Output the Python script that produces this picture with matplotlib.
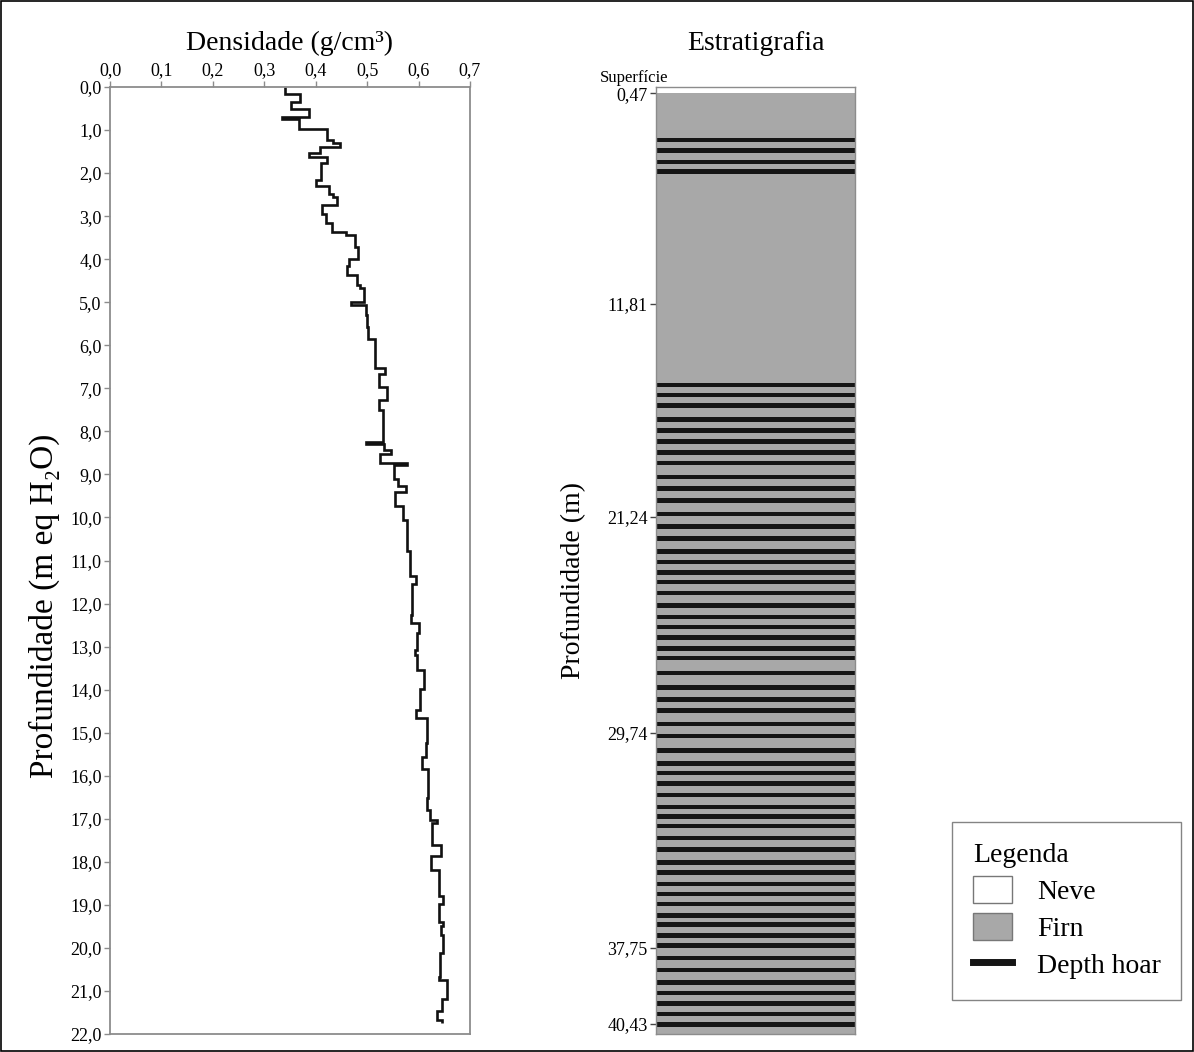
import matplotlib
matplotlib.use("Agg")
import matplotlib.pyplot as plt
from matplotlib.patches import Patch, Rectangle
from matplotlib.lines import Line2D
from matplotlib.ticker import FuncFormatter

# Density profile: top of each layer (m w.e.) and its density (g/cm3)
layer_top = [0.00, 0.16, 0.36, 0.51, 0.70, 0.75, 0.98, 1.23, 1.29, 1.39,
             1.53, 1.63, 1.76, 2.16, 2.29, 2.49, 2.55, 2.74, 2.95, 3.17,
             3.36, 3.43, 3.72, 4.00, 4.16, 4.37, 4.60, 4.67, 4.99, 5.06,
             5.29, 5.58, 5.86, 6.53, 6.67, 6.98, 7.27, 7.50, 8.24, 8.30,
             8.43, 8.53, 8.74, 8.78, 9.11, 9.28, 9.40, 9.73, 10.07, 10.79,
             11.37, 11.54, 12.26, 12.45, 12.69, 13.08, 13.19, 13.55, 13.99, 14.47,
             14.65, 15.25, 15.56, 15.85, 16.52, 16.79, 17.04, 17.10, 17.51, 17.60,
             17.86, 18.19, 18.79, 18.98, 19.39, 19.50, 19.70, 20.12, 20.67, 20.74,
             21.19, 21.46, 21.67]
layer_density = [0.340, 0.369, 0.351, 0.386, 0.334, 0.368, 0.421, 0.434, 0.447, 0.408,
                 0.386, 0.421, 0.410, 0.400, 0.426, 0.434, 0.441, 0.412, 0.420, 0.431,
                 0.459, 0.476, 0.483, 0.465, 0.461, 0.480, 0.486, 0.493, 0.468, 0.497,
                 0.499, 0.502, 0.515, 0.535, 0.524, 0.538, 0.524, 0.531, 0.497, 0.532,
                 0.546, 0.525, 0.578, 0.553, 0.560, 0.576, 0.554, 0.570, 0.577, 0.583,
                 0.595, 0.587, 0.585, 0.600, 0.596, 0.593, 0.597, 0.611, 0.603, 0.595,
                 0.616, 0.614, 0.606, 0.619, 0.616, 0.622, 0.635, 0.627, 0.626, 0.643,
                 0.624, 0.639, 0.647, 0.639, 0.648, 0.643, 0.647, 0.642, 0.639, 0.656,
                 0.645, 0.636, 0.645]
profile_bottom = 21.74

# Stratigraphy (plotted on the same m w.e. scale, labelled in metres)
neve_bottom = 0.15
column_bottom = 22.0
depth_hoar = [1.23, 1.48, 1.74, 1.96,
              6.92, 7.15, 7.40, 7.73, 7.98, 8.24, 8.49, 8.74, 9.06, 9.33,
              9.61, 9.92, 10.21, 10.49, 10.79, 11.03, 11.28, 11.50, 11.75, 12.04,
              12.31, 12.54, 12.79, 13.05, 13.26, 13.61, 13.95, 14.23, 14.49, 14.80,
              15.08, 15.41, 15.71, 15.94, 16.18, 16.45, 16.73, 16.95, 17.17, 17.45,
              17.71, 18.01, 18.25, 18.51, 18.75, 18.98, 19.25, 19.46, 19.71, 19.95,
              20.23, 20.51, 20.80, 21.05, 21.29, 21.53, 21.78]
strat_tick_pos = [0.15, 5.04, 9.98, 15.00, 20.00, 21.76]
strat_tick_labels = ["0,47", "11,81", "21,24", "29,74", "37,75", "40,43"]

plt.rcParams["font.family"] = ["Liberation Serif", "DejaVu Serif"]

W, H = 1194, 1052
fig = plt.figure(figsize=(W / 100, H / 100), dpi=100)
spine_gray = "#8c8c8c"
firn_gray = "#a8a8a8"

def fig_rect(x0, y0, x1, y1):
    return [x0 / W, 1 - y1 / H, (x1 - x0) / W, (y1 - y0) / H]

# Left panel: density
ax = fig.add_axes(fig_rect(110, 87, 470, 1034))
edges = layer_top + [profile_bottom]
ax.stairs(layer_density, edges, orientation="horizontal", baseline=None,
          color="#111111", linewidth=1.9)
ax.set_xlim(0, 0.7)
ax.set_ylim(22, 0)
ax.set_xticks([i / 10 for i in range(8)])
ax.set_yticks(range(23))
comma = FuncFormatter(lambda v, p: f"{v:.1f}".replace(".", ","))
ax.xaxis.set_major_formatter(comma)
ax.yaxis.set_major_formatter(comma)
ax.xaxis.tick_top()
ax.tick_params(axis="both", direction="out", length=4, width=1, color=spine_gray,
               labelsize=13, pad=2)
for s in ax.spines.values():
    s.set_color(spine_gray)
    s.set_linewidth(1.3)
ax.set_title("Densidade (g/cm³)", fontsize=20, pad=27)
ax.set_ylabel("Profundidade (m eq H₂O)", fontsize=24)
ax.yaxis.set_label_coords(-0.14, 0.452)

# Right panel: stratigraphy column
ax2 = fig.add_axes(fig_rect(656, 87, 855, 1034))
ax2.barh(neve_bottom / 2, 1, height=neve_bottom, left=0, color="white", linewidth=0)
ax2.barh((neve_bottom + column_bottom) / 2, 1, height=column_bottom - neve_bottom,
         left=0, color=firn_gray, linewidth=0)
ax2.barh(depth_hoar, 1, height=0.105, left=0, color="#151515", linewidth=0)
ax2.set_xlim(0, 1)
ax2.set_ylim(22, 0)
ax2.set_xticks([])
ax2.set_yticks(strat_tick_pos)
ax2.set_yticklabels(strat_tick_labels)
ax2.tick_params(axis="y", direction="out", length=4, width=1, color="#444444",
                labelsize=13, pad=2)
for s in ax2.spines.values():
    s.set_color(spine_gray)
    s.set_linewidth(1.0)
ax2.set_title("Estratigrafia", fontsize=20, pad=27)
ax2.set_ylabel("Profundidade (m)", fontsize=20)
ax2.yaxis.set_label_coords(-0.35, 0.479)
ax2.text(0.06, -0.22, "Superfície", ha="right", va="center", fontsize=12,
         transform=ax2.get_yaxis_transform(), clip_on=False)

# Legend
handles = [Patch(facecolor="white", edgecolor="#777777", linewidth=1),
           Patch(facecolor=firn_gray, edgecolor="#777777", linewidth=1),
           Line2D([0], [0], color="#151515", linewidth=5)]
leg = fig.legend(handles, ["Neve", "Firn", "Depth hoar"], title="Legenda",
                 loc="upper left", bbox_to_anchor=(952 / W, 1 - 822 / H),
                 borderaxespad=0, fontsize=20, title_fontsize=20, frameon=True,
                 fancybox=False, edgecolor="#666666", alignment="left",
                 handlelength=1.4, handleheight=1.1, handletextpad=0.9,
                 borderpad=0.75, labelspacing=0.3)
leg.get_frame().set_linewidth(1.0)

# Outer border of the figure
fig.patches.append(Rectangle((0.0005, 0.0005), 0.999, 0.999, transform=fig.transFigure,
                             fill=False, edgecolor="black", linewidth=1.2))

fig.savefig("out.png", dpi=100)
